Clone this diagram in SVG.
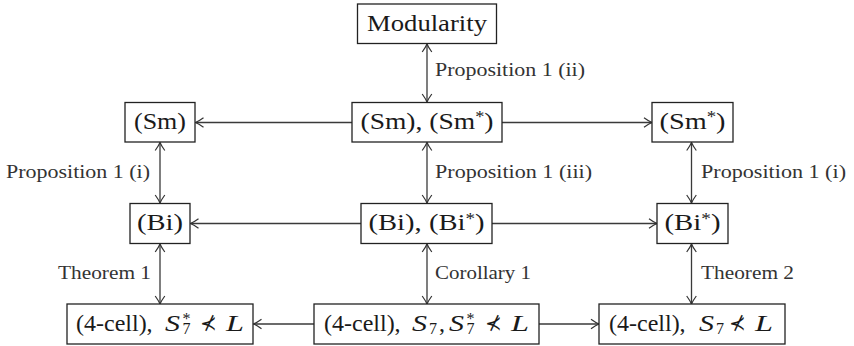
<svg xmlns="http://www.w3.org/2000/svg" width="854" height="346" viewBox="0 0 854 346">
<style>
.box{fill:#fff;stroke:#222;stroke-width:1.3}
.t{font-family:"Liberation Serif","Times New Roman",serif;font-size:24px;fill:#1a1a1a}
.lb{font-family:"Liberation Serif","Times New Roman",serif;font-size:18.5px;fill:#333}
.it{font-style:italic}
.sm{font-size:16px}
.rel{font-family:"DejaVu Sans",sans-serif;font-size:20px;fill:#1a1a1a}
.c{fill:none;stroke:#3a3a3a;stroke-width:1.3}
</style>
<defs>
<marker id="arr" markerUnits="userSpaceOnUse" markerWidth="14" markerHeight="14" viewBox="-10 -7 12 14" refX="0" refY="0" orient="auto-start-reverse" overflow="visible">
<path d="M-8,-4.8 Q-3,-1.2 0,0 Q-3,1.2 -8,4.8" fill="none" stroke="#333" stroke-width="1.2"/>
</marker>
</defs>
<g id="connectors">
<path class="c" d="M427,44 L427,102" marker-start="url(#arr)" marker-end="url(#arr)"/>
<path class="c" d="M427,142.5 L427,203" marker-start="url(#arr)" marker-end="url(#arr)"/>
<path class="c" d="M427,244 L427,304" marker-start="url(#arr)" marker-end="url(#arr)"/>
<path class="c" d="M160,142.5 L160,203" marker-start="url(#arr)" marker-end="url(#arr)"/>
<path class="c" d="M160,244 L160,304" marker-start="url(#arr)" marker-end="url(#arr)"/>
<path class="c" d="M691.5,142.5 L691.5,203" marker-start="url(#arr)" marker-end="url(#arr)"/>
<path class="c" d="M691.5,244 L691.5,304" marker-start="url(#arr)" marker-end="url(#arr)"/>
<path class="c" d="M352,122.5 L195.5,122.5" marker-end="url(#arr)"/>
<path class="c" d="M502,122.5 L652,122.5" marker-end="url(#arr)"/>
<path class="c" d="M361,223.5 L190.5,223.5" marker-end="url(#arr)"/>
<path class="c" d="M492,223.5 L657,223.5" marker-end="url(#arr)"/>
<path class="c" d="M314,324 L253.5,324" marker-end="url(#arr)"/>
<path class="c" d="M539,324 L599,324" marker-end="url(#arr)"/>
<text class="lb" x="435" y="76" textLength="150" lengthAdjust="spacingAndGlyphs">Proposition 1 (ii)</text>
<text class="lb" x="435" y="177.5" textLength="157" lengthAdjust="spacingAndGlyphs">Proposition 1 (iii)</text>
<text class="lb" x="435" y="279" textLength="96" lengthAdjust="spacingAndGlyphs">Corollary 1</text>
<text class="lb" x="6" y="178" textLength="144" lengthAdjust="spacingAndGlyphs">Proposition 1 (i)</text>
<text class="lb" x="58" y="279" textLength="93" lengthAdjust="spacingAndGlyphs">Theorem 1</text>
<text class="lb" x="701" y="178" textLength="145" lengthAdjust="spacingAndGlyphs">Proposition 1 (i)</text>
<text class="lb" x="701" y="279" textLength="93" lengthAdjust="spacingAndGlyphs">Theorem 2</text>
</g>
<g id="modularity">
<rect class="box" x="357.5" y="4" width="139" height="39.5"/>
<text class="t" x="427" y="30.5" text-anchor="middle" textLength="120" lengthAdjust="spacingAndGlyphs">Modularity</text>
</g>
<g id="sm-smstar">
<rect class="box" x="352" y="102.5" width="150" height="39.5"/>
<text class="t" x="427" y="128.5" text-anchor="middle" textLength="133" lengthAdjust="spacingAndGlyphs">(Sm), (Sm<tspan class="sm" dy="-6.5">*</tspan><tspan dy="6.5">)</tspan></text>
</g>
<g id="sm">
<rect class="box" x="125" y="102.5" width="70" height="39.5"/>
<text class="t" x="160" y="128.5" text-anchor="middle" textLength="52" lengthAdjust="spacingAndGlyphs">(Sm)</text>
</g>
<g id="smstar">
<rect class="box" x="652" y="102.5" width="81" height="39.5"/>
<text class="t" x="692.5" y="128.5" text-anchor="middle" textLength="66" lengthAdjust="spacingAndGlyphs">(Sm<tspan class="sm" dy="-6.5">*</tspan><tspan dy="6.5">)</tspan></text>
</g>
<g id="bi-bistar">
<rect class="box" x="361" y="203.5" width="131" height="40"/>
<text class="t" x="426.5" y="230" text-anchor="middle" textLength="116" lengthAdjust="spacingAndGlyphs">(Bi), (Bi<tspan class="sm" dy="-6.5">*</tspan><tspan dy="6.5">)</tspan></text>
</g>
<g id="bi">
<rect class="box" x="130" y="203.5" width="60" height="40"/>
<text class="t" x="160" y="230" text-anchor="middle" textLength="46" lengthAdjust="spacingAndGlyphs">(Bi)</text>
</g>
<g id="bistar">
<rect class="box" x="657" y="203.5" width="71" height="40"/>
<text class="t" x="692.5" y="230" text-anchor="middle" textLength="56" lengthAdjust="spacingAndGlyphs">(Bi<tspan class="sm" dy="-6.5">*</tspan><tspan dy="6.5">)</tspan></text>
</g>
<g id="cell-left">
<rect class="box" x="67" y="304" width="186" height="40"/>
<text class="t" x="76" y="331">(4-cell),</text>
<text class="t it" x="165" y="331" font-size="25" textLength="15" lengthAdjust="spacingAndGlyphs">S</text>
<text class="t sm" x="182.5" y="323.5">*<tspan x="182.5" y="334">7</tspan></text>
<text class="rel" x="200" y="330">⊀</text>
<text class="t it" x="226" y="331" font-size="25" textLength="18" lengthAdjust="spacingAndGlyphs">L</text>
</g>
<g id="cell-middle">
<rect class="box" x="314" y="304" width="225" height="40"/>
<text class="t" x="324" y="331">(4-cell),</text>
<text class="t it" x="412" y="331" font-size="25" textLength="15" lengthAdjust="spacingAndGlyphs">S</text>
<text class="t sm" x="429" y="334">7</text>
<text class="t" x="439" y="331">,</text>
<text class="t it" x="449" y="331" font-size="25" textLength="15" lengthAdjust="spacingAndGlyphs">S</text>
<text class="t sm" x="466.5" y="323.5">*<tspan x="466.5" y="334">7</tspan></text>
<text class="rel" x="485" y="330">⊀</text>
<text class="t it" x="511" y="331" font-size="25" textLength="18" lengthAdjust="spacingAndGlyphs">L</text>
</g>
<g id="cell-right">
<rect class="box" x="599" y="304" width="186" height="40"/>
<text class="t" x="609" y="331">(4-cell),</text>
<text class="t it" x="699" y="331" font-size="25" textLength="15" lengthAdjust="spacingAndGlyphs">S</text>
<text class="t sm" x="716" y="334">7</text>
<text class="rel" x="729" y="330">⊀</text>
<text class="t it" x="755" y="331" font-size="25" textLength="18" lengthAdjust="spacingAndGlyphs">L</text>
</g>
</svg>
